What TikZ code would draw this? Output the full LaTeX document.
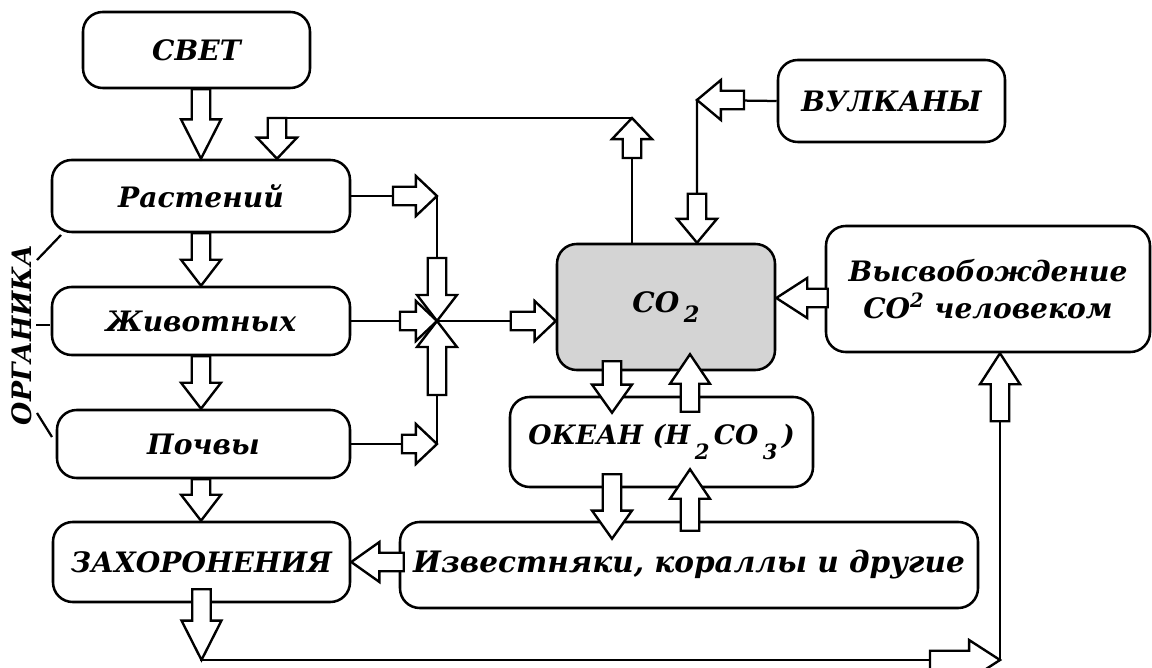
\documentclass[tikz,border=0pt]{standalone}
\usepackage{fontspec}
\setmainfont{DejaVu Serif}
\usetikzlibrary{calc}
\definecolor{GasClr}{rgb}{0.83,0.83,0.83}
\definecolor{LineClr}{rgb}{0,0,0}
\newcommand{\asw}{6.6pt}
\newcommand{\ahw}{14.2pt}
\newcommand{\barr}[3][18.5pt]{%
\draw[arrbox] let \p1=#2, \p2=#3, \n1={atan2(\y2-\y1,\x2-\x1)} in
 ($(\p1)+(\n1+90:\asw)$) -- ($(\p2)+(\n1+180:#1)+(\n1+90:\asw)$) -- ($(\p2)+(\n1+180:#1)+(\n1+90:\ahw)$)
 -- (\p2) -- ($(\p2)+(\n1+180:#1)+(\n1-90:\ahw)$) -- ($(\p2)+(\n1+180:#1)+(\n1-90:\asw)$) -- ($(\p1)+(\n1-90:\asw)$) -- cycle;}
\newcommand{\lsub}[1]{\raisebox{-1.1ex}{\fontsize{15}{15}\selectfont #1}}

\begin{document}
\begin{tikzpicture}[x=0.025cm,y=-0.025cm,
 blok/.style={draw=LineClr,line width=1.8pt,rounded corners=14pt,align=center,
   font=\bfseries\itshape\fontsize{20}{26}\selectfont},
 sz/.style 2 args={minimum width=#1*0.025cm,minimum height=#2*0.025cm},
 ln/.style={draw=LineClr,line width=1.6pt},
 arrbox/.style={draw=LineClr,fill=white,line width=1.7pt,line join=miter}]
\useasboundingbox (0,0) rectangle (1152,668);

\node[blok,sz={227}{76}] (Svet) at (196.5,50) {СВЕТ};
\node[blok,sz={298}{72}] (Rast) at (201,196) {Растений};
\node[blok,sz={298}{68}] (Zhiv) at (201,321) {Животных};
\node[blok,sz={293}{68}] (Poch) at (203.5,444) {Почвы};
\node[blok,sz={297}{80}] (Zah) at (201.5,562) {ЗАХОРОНЕНИЯ};
\node[blok,sz={218}{126},fill=GasClr] (CO2) at (666,307) {CO\,\raisebox{-0.7ex}{\fontsize{16}{16}\selectfont 2}};
\node[blok,sz={227}{82}] (Vulk) at (891.5,101) {ВУЛКАНЫ};
\node[blok,sz={324}{126}] (Vysv) at (988,289) {Высвобождение\\CO\textsuperscript{2} человеком};
\node[blok,sz={303}{90},font=\bfseries\itshape\fontsize{19}{26}\selectfont] (Okean) at (661.5,442) {ОКЕАН (H\,\lsub{2}\,CO\,\lsub{3}\,)};
\node[blok,sz={578}{86},font=\bfseries\itshape\fontsize{21}{26}\selectfont] (Izv) at (689,565) {Известняки, кораллы и другие};
\node[font=\bfseries\itshape\fontsize{19}{24}\selectfont,rotate=90] (Org) at (22,335) {ОРГАНИКА};

\coordinate (J) at (437,321);
\coordinate (Fb) at (632,118);
\coordinate (FbL) at (277,118);
\coordinate (Vk) at (697,100);
\coordinate (Bl) at (201.5,660);
\coordinate (Br) at (1000,660);
\coordinate (Od) at (612,0);
\coordinate (Ou) at (690,0);

\draw[ln] (37,260) -- (61,235);
\draw[ln] (36,325) -- (50,325);
\draw[ln] (37,413) -- (52,437);

\draw[ln] (Rast.east) -- (Rast.east -| J) -- (J);
\draw[ln] (Zhiv.east) -- (J) -- (J -| CO2.west);
\draw[ln] (Poch.east) -- (Poch.east -| J) -- (J);
\draw[ln] (CO2.north -| Fb) -- (Fb) -- (FbL);
\draw[ln] (Vulk.west) -- (Vk) -- (Vk |- CO2.north);
\draw[ln] (Zah.south) -- (Bl) -- (Br) -- (Br |- Vysv.south);

\barr[28pt]{(Rast.north |- Svet.south)}{(Rast.north)}
\barr{(Rast.south)}{(Zhiv.north)}
\barr{(Zhiv.south)}{(Zhiv.south |- Poch.north)}
\barr{(Zhiv.south |- Poch.south)}{(Zhiv.south |- Zah.north)}
\barr[28pt]{($(Zah.south)+(0,-14)$)}{(Bl)}
\barr[15pt]{($(Rast.east -| J)+(-44,0)$)}{(Rast.east -| J)}
\barr{($(J)+(0,-63)$)}{(J)}
\barr{($(J)+(0,74)$)}{(J)}
\barr[15pt]{($(J)+(-37,0)$)}{(J)}
\barr[15pt]{($(Poch.east -| J)+(-35,0)$)}{(Poch.east -| J)}
\barr[15pt]{($(J -| CO2.west)+(-45,0)$)}{(J -| CO2.west)}
\barr[15pt]{($(Fb)+(0,40)$)}{(Fb)}
\barr[15pt]{(FbL)}{(FbL |- Rast.north)}
\barr[17pt]{($(Vk)+(47,0)$)}{(Vk)}
\barr[17pt]{($(Vk |- CO2.north)+(0,-49)$)}{(Vk |- CO2.north)}
\barr[22pt]{($(Vysv.west)+(3,9)$)}{($(CO2.east)+(0,-9)$)}
\barr[20pt]{($(CO2.south -| Od)+(0,-10)$)}{($(Okean.north -| Od)+(0,17)$)}
\barr[21pt]{($(Okean.north -| Ou)+(0,16)$)}{($(CO2.south -| Ou)+(0,-17)$)}
\barr[20pt]{($(Okean.south -| Od)+(0,-14)$)}{($(Izv.north -| Od)+(0,18)$)}
\barr[21pt]{($(Izv.north -| Ou)+(0,10)$)}{($(Okean.south -| Ou)+(0,-19)$)}
\barr[20pt]{($(Zah.east -| Izv.west)+(5,0)$)}{(Zah.east)}
\barr[22pt]{($(Br)+(-70,0)$)}{(Br)}
\barr[22pt]{($(Br |- Vysv.south)+(0,68)$)}{(Br |- Vysv.south)}
\end{tikzpicture}
\end{document}
